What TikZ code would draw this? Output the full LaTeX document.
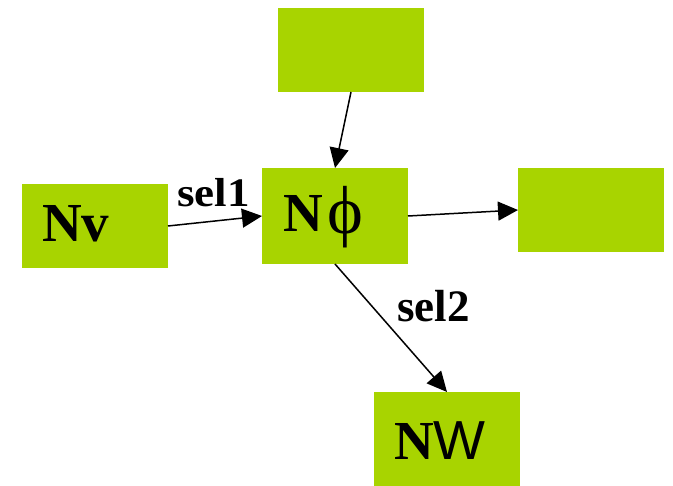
\documentclass[tikz,border=0pt]{standalone}
\usepackage{fontspec}
\setmainfont{Liberation Serif}
\newfontfamily\sansW{Liberation Sans}
\usetikzlibrary{arrows.meta}
\definecolor{boxgreen}{RGB}{168,212,0}
\begin{document}
\begin{tikzpicture}[x=1pt,y=-1pt,
  gbox/.style={fill=boxgreen,draw=none,minimum width=146pt,inner sep=0pt,outer sep=0pt},
  lbl/.style={anchor=base west,inner sep=0pt,font=\fontsize{55}{60}\selectfont},
  elbl/.style={anchor=base west,inner sep=0pt,font=\fontsize{45}{50}\selectfont\bfseries},
  conn/.style={line width=1.5pt,-{Triangle[length=20pt,width=19pt]}}]
\useasboundingbox (0,0) rectangle (673,486);
\node[gbox,minimum height=84pt] (top) at (351,50) {};
\node[gbox,minimum height=84pt] (nv) at (95,226) {};
\node[gbox,minimum height=96pt] (nphi) at (335,216) {};
\node[gbox,minimum height=84pt] (right) at (591,210) {};
\node[gbox,minimum height=94pt] (nw) at (447,439) {};
\node[lbl] (tnv) at (42,242) {\textbf{Nv}};
\node[lbl] (tnphi) at (283,232) {\textbf{N}\hspace{5pt}\raisebox{-2pt}{\fontsize{68}{70}\selectfont\symbol{"03D5}}};
\node[lbl] (tnw) at (394,460) {\textbf{N}{\sansW W}};
\node[elbl,yscale=0.9] (sel1) at (177,207) {sel1};
\node[elbl] (sel2) at (397,322) {sel2};
\draw[conn] (nv.east) -- (nphi.west);
\draw[conn] (top.south) -- (nphi.north);
\draw[conn] (nphi.east) -- (right.west);
\draw[conn] (nphi.south) -- (nw.north);
\end{tikzpicture}
\end{document}
